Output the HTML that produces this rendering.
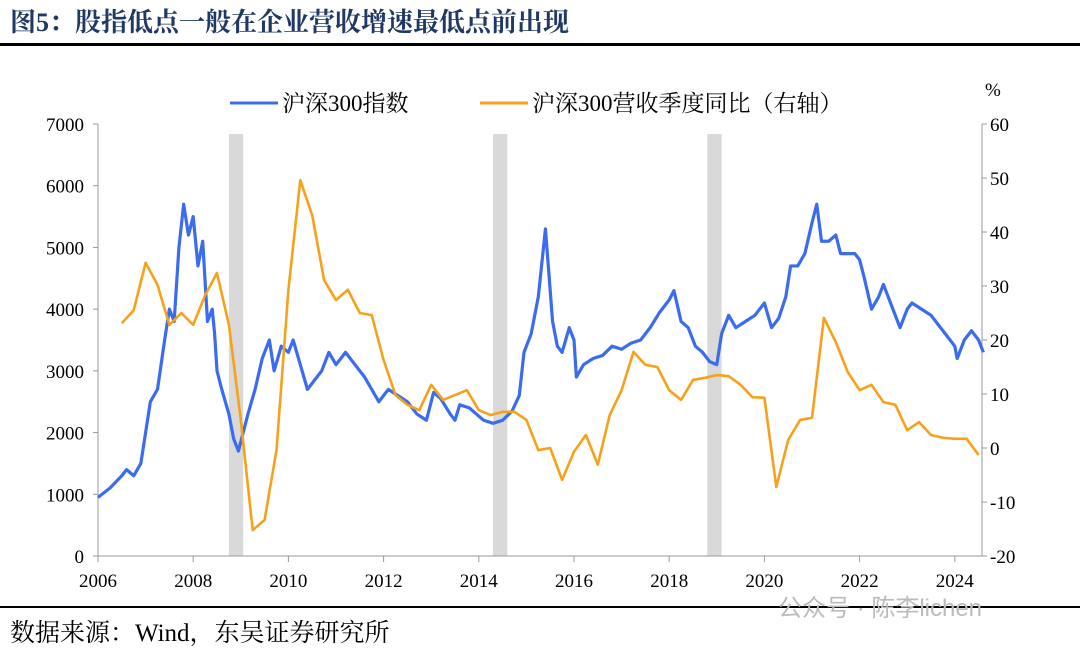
<!DOCTYPE html>
<html><head><meta charset="utf-8"><style>
body{margin:0;background:#fff;width:1080px;height:651px;overflow:hidden;font-family:"Liberation Serif","Noto Serif CJK SC",serif}
svg text{font-family:"Liberation Serif","Noto Serif CJK SC",serif}
</style></head><body>
<svg id="chart" width="1080" height="651" xmlns="http://www.w3.org/2000/svg">
<text x="10" y="31" font-size="26" font-weight="bold" fill="#1f3864">图5：股指低点一般在企业营收增速最低点前出现</text>
<rect x="0" y="43" width="1080" height="3" fill="#000"/>
<rect x="0" y="606" width="1080" height="2" fill="#000"/>
<text x="10" y="641" font-size="25" fill="#000">数据来源：Wind，东吴证券研究所</text>
<text x="778" y="616" font-size="24" fill="#bbb" style="font-family:'Liberation Sans','Noto Sans CJK SC',sans-serif">公众号 · 陈李lichen</text>
<g id="plot"></g>
</svg>
<script>
const leftTicks=[0,1000,2000,3000,4000,5000,6000,7000];
const rightTicks=[-20,-10,0,10,20,30,40,50,60];
const yearTicks=[2006,2008,2010,2012,2014,2016,2018,2020,2022,2024];
const shadeStart=[2008.75,2014.3,2018.8];
const shadeEnd=[2009.05,2014.6,2019.1];
const idxDates=[2006.0,2006.25,2006.5,2006.6,2006.75,2006.9,2007.0,2007.1,2007.25,2007.4,2007.5,2007.6,2007.7,2007.8,2007.9,2008.0,2008.1,2008.2,2008.3,2008.4,2008.45,2008.5,2008.6,2008.75,2008.85,2008.95,2009.05,2009.15,2009.3,2009.45,2009.6,2009.7,2009.85,2010.0,2010.1,2010.25,2010.4,2010.5,2010.7,2010.85,2011.0,2011.2,2011.4,2011.6,2011.75,2011.9,2012.1,2012.3,2012.5,2012.7,2012.9,2013.05,2013.2,2013.4,2013.5,2013.6,2013.8,2013.95,2014.1,2014.3,2014.5,2014.7,2014.85,2014.95,2015.1,2015.25,2015.4,2015.45,2015.55,2015.65,2015.75,2015.9,2016.0,2016.05,2016.2,2016.4,2016.6,2016.8,2017.0,2017.2,2017.4,2017.6,2017.8,2018.0,2018.1,2018.25,2018.4,2018.55,2018.7,2018.85,2019.0,2019.1,2019.25,2019.4,2019.6,2019.8,2020.0,2020.15,2020.3,2020.45,2020.55,2020.7,2020.85,2021.0,2021.1,2021.2,2021.35,2021.5,2021.6,2021.75,2021.9,2022.0,2022.1,2022.25,2022.4,2022.5,2022.7,2022.85,2023.0,2023.1,2023.3,2023.5,2023.7,2023.85,2024.0,2024.05,2024.2,2024.35,2024.5,2024.6];
const idxValues=[950,1100,1300,1400,1300,1500,2000,2500,2700,3500,4000,3800,5000,5700,5200,5500,4700,5100,3800,4000,3600,3000,2700,2300,1900,1700,2000,2300,2700,3200,3500,3000,3400,3300,3500,3100,2700,2800,3000,3300,3100,3300,3100,2900,2700,2500,2700,2600,2500,2300,2200,2650,2550,2300,2200,2450,2400,2300,2200,2150,2200,2350,2600,3300,3600,4200,5300,4800,3800,3400,3300,3700,3500,2900,3100,3200,3250,3400,3350,3450,3500,3700,3950,4150,4300,3800,3700,3400,3300,3150,3100,3600,3900,3700,3800,3900,4100,3700,3850,4200,4700,4700,4900,5400,5700,5100,5100,5200,4900,4900,4900,4800,4500,4000,4200,4400,4000,3700,4000,4100,4000,3900,3700,3550,3400,3200,3500,3650,3500,3300];
const revStart=2006.5;
const revValues=[23.1,25.5,34.3,30.2,22.8,25,22.8,28.3,32.4,22.8,5.2,-15.2,-13.3,-0.4,29.3,49.6,43.1,31.1,27.4,29.3,25,24.6,16.3,9.8,8,7,11.7,8.9,9.8,10.7,7,6.1,6.7,6.7,5.2,-0.4,0,-5.9,-0.7,2.4,-3.1,6.1,10.7,17.8,15.4,15,10.7,8.9,12.6,13,13.5,13.3,11.7,9.4,9.3,-7.2,1.5,5.2,5.6,24.1,19.6,14.1,10.7,11.7,8.5,8,3.3,4.8,2.4,1.9,1.7,1.7,-1.3];

const L=98,R=982,T=124,B=556,NS="http://www.w3.org/2000/svg";
const xS=y=>L+(y-2006)*47.6;
const yL=v=>B-(v/7000)*(B-T);
const yR=v=>B-((v+20)/80)*(B-T);
const g=document.getElementById('plot');
function mk(tag,attrs,txt){const e=document.createElementNS(NS,tag);for(const k in attrs)e.setAttribute(k,attrs[k]);if(txt!==undefined)e.textContent=txt;g.appendChild(e);return e;}
shadeStart.forEach((s,i)=>{const e=mk('rect',{x:xS(s),y:134,width:xS(shadeEnd[i])-xS(s),height:B-134,fill:'#d9d9d9'});

});
let a=mk('line',{x1:L,y1:T,x2:L,y2:B,stroke:'#999'});
a=mk('line',{x1:R,y1:T,x2:R,y2:B,stroke:'#999'});
a=mk('line',{x1:L,y1:B,x2:R,y2:B,stroke:'#999'});
leftTicks.forEach(v=>{mk('line',{x1:L-5,y1:yL(v),x2:L,y2:yL(v),stroke:'#999'});
const t=mk('text',{x:L-14,y:yL(v)+7,'font-size':19,'text-anchor':'end'},v);

});
rightTicks.forEach(v=>{mk('line',{x1:R,y1:yR(v),x2:R+5,y2:yR(v),stroke:'#999'});
const t=mk('text',{x:R+8,y:yR(v)+7,'font-size':19},v);

});
yearTicks.forEach(v=>{mk('line',{x1:xS(v),y1:B,x2:xS(v),y2:B+6,stroke:'#999'});
const t=mk('text',{x:xS(v),y:B+31,'font-size':19,'text-anchor':'middle'},v);

});
let u=mk('text',{x:985,y:96,'font-size':19},'%');
let p=mk('polyline',{points:idxDates.map((d,i)=>xS(d)+','+yL(idxValues[i])).join(' '),fill:'none',stroke:'#3b6cf0','stroke-width':3.2,'stroke-linejoin':'round'});


p=mk('polyline',{points:revValues.map((v,i)=>xS(revStart+i*0.25)+','+yR(v)).join(' '),fill:'none',stroke:'#f7a11a','stroke-width':2.6,'stroke-linejoin':'round'});


let l=mk('line',{x1:230,y1:103,x2:278,y2:103,stroke:'#3b6cf0','stroke-width':3});
l=mk('text',{x:282,y:111,'font-size':23},'沪深300指数');
l=mk('line',{x1:480,y1:103,x2:528,y2:103,stroke:'#f7a11a','stroke-width':3});
l=mk('text',{x:532,y:111,'font-size':23},'沪深300营收季度同比（右轴）');
</script>
</body></html>
